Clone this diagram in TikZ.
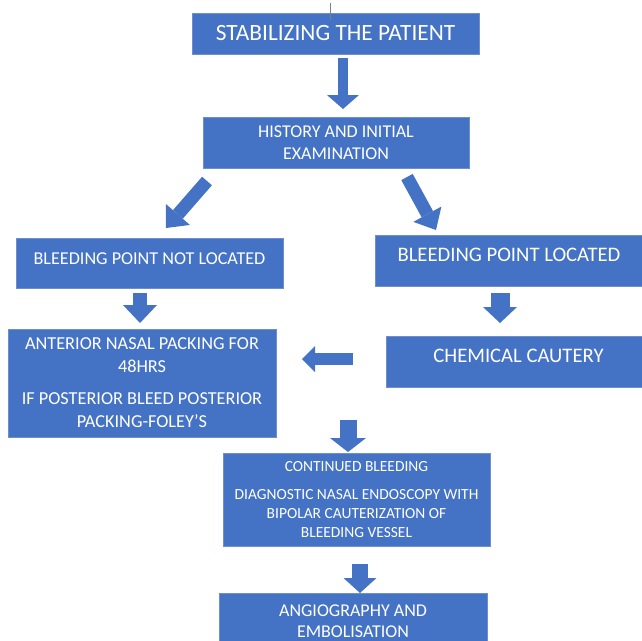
\documentclass[tikz,border=0pt]{standalone}
\usepackage{fontspec}
\setmainfont{Carlito}
\usepackage{xcolor}
\usepackage {tikz}
\usetikzlibrary {positioning}
\usetikzlibrary{arrows.meta}

\definecolor{boxblue}{HTML}{4472C4}
\definecolor{boxline}{HTML}{6F8FCB}

\begin{document}
\begin{tikzpicture}[x=0.75pt,y=-0.75pt]
\useasboundingbox (0,0) rectangle (642,640);
\clip (0,0) rectangle (642,640);

\begin{scope}[every node/.style={rectangle,fill=boxblue,draw=boxline,line width=0.6pt,
             text=white,align=center,inner sep=0pt},
             upper/.style={text height=9pt,text depth=7pt}]
   \node[minimum width=215.25pt, minimum height=30.75pt, font=\fontsize{17.5}{20}\selectfont]
      (stab) at (335.5,33.5) {STABILIZING THE PATIENT};
   \node[minimum width=199.5pt, minimum height=38.25pt, font=\fontsize{13.5}{16.5}\selectfont]
      (hist) at (336,142.5) {HISTORY AND INITIAL\\EXAMINATION};

   \node[upper, minimum width=200.25pt, minimum height=37.5pt, font=\fontsize{13.6}{16}\selectfont]
      (notloc) at (149.5,263) {BLEEDING POINT NOT LOCATED};
   \node[upper, minimum width=201pt, minimum height=38.25pt, font=\fontsize{15.5}{18}\selectfont]
      (loc) at (509,260.5) {BLEEDING POINT LOCATED};

   \node[minimum width=201pt, minimum height=81pt, font=\fontsize{13.7}{17.25}\selectfont]
      (ant) at (142,383) {ANTERIOR NASAL PACKING FOR\\48HRS\\[6.75pt]IF POSTERIOR BLEED POSTERIOR\\PACKING-FOLEY’S};
   \node[upper, minimum width=198.75pt, minimum height=38.25pt, font=\fontsize{15.5}{18}\selectfont]
      (chem) at (518.5,361.5) {CHEMICAL CAUTERY};

   \node[minimum width=200.25pt, minimum height=69.75pt, font=\fontsize{11.6}{14.6}\selectfont]
      (cont) at (356.5,499.5) {CONTINUED BLEEDING\\[6.4pt]DIAGNOSTIC NASAL ENDOSCOPY WITH\\BIPOLAR CAUTERIZATION OF\\BLEEDING VESSEL};
   \node[minimum width=201pt, minimum height=42pt, font=\fontsize{13.5}{15.75}\selectfont]
      (angio) at (353,621) {ANGIOGRAPHY AND\\EMBOLISATION};
\end{scope}

% block arrows
\coordinate (a1s) at (343,58);   \coordinate (a1e) at (343,109);
\coordinate (d1s) at (207,181);  \coordinate (d1e) at (166,228);
\coordinate (d2s) at (407,177);  \coordinate (d2e) at (436,230);
\coordinate (a2s) at (140,293);  \coordinate (a2e) at (140,323);
\coordinate (a3s) at (500,293);  \coordinate (a3e) at (500,323);
\coordinate (a4s) at (353,359);  \coordinate (a4e) at (302,359);
\coordinate (a5s) at (348,420);  \coordinate (a5e) at (348,452);
\coordinate (a6s) at (360,564);  \coordinate (a6e) at (360,593);

\begin{scope}[every path/.style={draw=boxblue}]
   \path [line width=7.5pt, -{Triangle[width=24pt,length=10.5pt,line width=0pt]}] (a1s) -- (a1e);
   \path [line width=9.75pt, -{Triangle[width=24pt,length=13.5pt,line width=0pt]}] (d1s) -- (d1e);
   \path [line width=9.75pt, -{Triangle[width=24pt,length=13.5pt,line width=0pt]}] (d2s) -- (d2e);
   \path [line width=10.5pt, -{Triangle[width=25.5pt,length=13.5pt,line width=0pt]}] (a2s) -- (a2e);
   \path [line width=14.25pt, -{Triangle[width=25.5pt,length=12pt,line width=0pt]}] (a3s) -- (a3e);
   \path [line width=9pt, -{Triangle[width=19.5pt,length=9.75pt,line width=0pt]}] (a4s) -- (a4e);
   \path [line width=12.75pt, -{Triangle[width=27pt,length=10.5pt,line width=0pt]}] (a5s) -- (a5e);
   \path [line width=12pt, -{Triangle[width=24.75pt,length=11.25pt,line width=0pt]}] (a6s) -- (a6e);
\end{scope}

% cursor mark
\coordinate (cur1) at (330,3);
\coordinate (cur2) at (330,20);
\draw [gray, line width=0.75pt] (cur1) -- (cur2);
\end{tikzpicture}
\end{document}
